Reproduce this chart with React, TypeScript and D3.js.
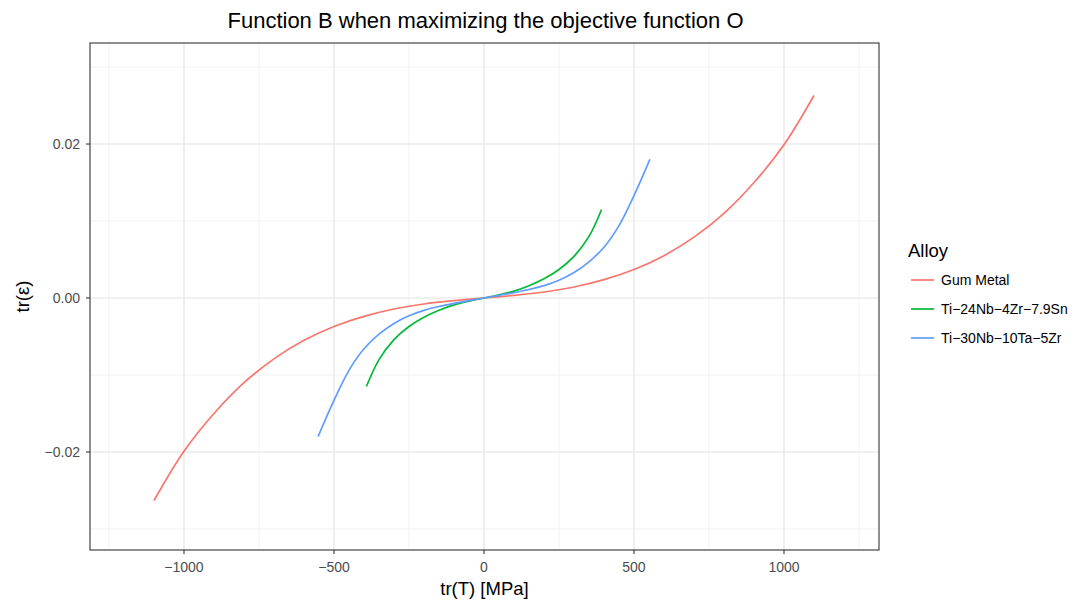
import React from "react";
import * as d3 from "d3";

// Trace of stress (MPa) against trace of strain for each alloy
const alloys = ["Gum Metal", "Ti−24Nb−4Zr−7.9Sn", "Ti−30Nb−10Ta−5Zr"];
const alloyColors = ["#F8766D", "#00BA38", "#619CFF"];

const gumStress = [-1100, -1000, -900, -800, -700, -600, -500, -400, -300, -200, -100, 0, 100, 200, 300, 400, 500, 600, 700, 800, 900, 1000, 1100];
const gumStrain = [-0.0263, -0.0199, -0.015, -0.011, -0.0079, -0.0055, -0.0037, -0.00238, -0.00143, -0.00078, -0.00034, 0, 0.00034, 0.00078, 0.00143, 0.00238, 0.0037, 0.0055, 0.0079, 0.011, 0.015, 0.0199, 0.0263];

const tnzsStress = [-392, -350, -300, -250, -200, -150, -100, -50, 0, 50, 100, 150, 200, 250, 300, 350, 392];
const tnzsStrain = [-0.0115, -0.008, -0.0054, -0.0037, -0.0025, -0.0016, -0.0009, -0.0004, 0, 0.0004, 0.0009, 0.0016, 0.0025, 0.0037, 0.0054, 0.008, 0.0115];

const tntzStress = [-553, -500, -450, -400, -350, -300, -250, -200, -150, -100, -50, 0, 50, 100, 150, 200, 250, 300, 350, 400, 450, 500, 553];
const tntzStrain = [-0.018, -0.0133, -0.0094, -0.0066, -0.0047, -0.0033, -0.0023, -0.0016, -0.0011, -0.0007, -0.00035, 0, 0.00035, 0.0007, 0.0011, 0.0016, 0.0023, 0.0033, 0.0047, 0.0066, 0.0094, 0.0133, 0.018];

const xMajor = [-1000, -500, 0, 500, 1000];
const xMinor = [-1250, -750, -250, 250, 750, 1250];
const yMajor = [-0.02, 0, 0.02];
const yMinor = [-0.03, -0.01, 0.01, 0.03];

const title = "Function B when maximizing the objective function O";
const xTitle = "tr(T) [MPa]";
const yTitle = "tr(ε)";
const legendTitle = "Alloy";

const W = 1082;
const H = 602;
const panel = { left: 90, right: 879, top: 43, bottom: 550 };
const font = "'Liberation Sans', Arial, Helvetica, sans-serif";

const fmtX = (v: number) => (v < 0 ? "−" + Math.abs(v) : String(v));
const fmtY = (v: number) => (v < 0 ? "−" + Math.abs(v).toFixed(2) : v.toFixed(2));

export default function App() {
  const x = d3.scaleLinear().domain([-1313.3, 1316.7]).range([panel.left, panel.right]);
  const y = d3.scaleLinear().domain([-0.03273, 0.03312]).range([panel.bottom, panel.top]);

  const series = [
    { name: alloys[0], color: alloyColors[0], xs: gumStress, ys: gumStrain },
    { name: alloys[1], color: alloyColors[1], xs: tnzsStress, ys: tnzsStrain },
    { name: alloys[2], color: alloyColors[2], xs: tntzStress, ys: tntzStrain },
  ];

  const line = d3
    .line<[number, number]>()
    .x((d) => x(d[0]))
    .y((d) => y(d[1]))
    .curve(d3.curveCatmullRom.alpha(0.5));

  const cx = (panel.left + panel.right) / 2;
  const cy = (panel.top + panel.bottom) / 2;

  return (
    <svg
      width={W}
      height={H}
      style={{ position: "absolute", left: 0, top: 0, display: "block", background: "#fff" }}
      fontFamily={font}
    >
      <rect x={0} y={0} width={W} height={H} fill="#fff" />
      {/* grid */}
      {xMinor.map((v) => (
        <line key={"xm" + v} x1={x(v)} x2={x(v)} y1={panel.top} y2={panel.bottom} stroke="#F2F2F2" strokeWidth={1} />
      ))}
      {yMinor.map((v) => (
        <line key={"ym" + v} x1={panel.left} x2={panel.right} y1={y(v)} y2={y(v)} stroke="#F2F2F2" strokeWidth={1} />
      ))}
      {xMajor.map((v) => (
        <line key={"xM" + v} x1={x(v)} x2={x(v)} y1={panel.top} y2={panel.bottom} stroke="#EBEBEB" strokeWidth={1.6} />
      ))}
      {yMajor.map((v) => (
        <line key={"yM" + v} x1={panel.left} x2={panel.right} y1={y(v)} y2={y(v)} stroke="#EBEBEB" strokeWidth={1.6} />
      ))}

      {/* curves */}
      {series.map((s) => (
        <path
          key={s.name}
          d={line(s.xs.map((v, i) => [v, s.ys[i]] as [number, number])) || ""}
          fill="none"
          stroke={s.color}
          strokeWidth={1.7}
        />
      ))}

      {/* panel border */}
      <rect
        x={panel.left}
        y={panel.top}
        width={panel.right - panel.left}
        height={panel.bottom - panel.top}
        fill="none"
        stroke="#333333"
        strokeWidth={1.1}
      />

      {/* x axis */}
      {xMajor.map((v) => (
        <g key={"xt" + v}>
          <line x1={x(v)} x2={x(v)} y1={panel.bottom} y2={panel.bottom + 4} stroke="#333333" strokeWidth={1.1} />
          <text x={x(v)} y={572} textAnchor="middle" fontSize={14} fill="#4D4D4D">
            {fmtX(v)}
          </text>
        </g>
      ))}
      {/* y axis */}
      {yMajor.map((v) => (
        <g key={"yt" + v}>
          <line x1={panel.left - 4} x2={panel.left} y1={y(v)} y2={y(v)} stroke="#333333" strokeWidth={1.1} />
          <text x={80} y={y(v) + 5} textAnchor="end" fontSize={14} fill="#4D4D4D">
            {fmtY(v)}
          </text>
        </g>
      ))}

      <text x={cx} y={594.5} textAnchor="middle" fontSize={18.5} fill="#000">
        {xTitle}
      </text>
      <text transform={`translate(29,${cy}) rotate(-90)`} textAnchor="middle" fontSize={18.5} fill="#000">
        {yTitle}
      </text>
      <text x={cx + 1} y={28} textAnchor="middle" fontSize={22} fill="#000">
        {title}
      </text>

      {/* legend */}
      <text x={908} y={257} fontSize={18.5} fill="#000">
        {legendTitle}
      </text>
      {series.map((s, i) => (
        <g key={"lg" + s.name}>
          <line x1={911} x2={934} y1={280 + i * 29} y2={280 + i * 29} stroke={s.color} strokeWidth={1.7} />
          <text x={941} y={285 + i * 29} fontSize={14} fill="#000">
            {s.name}
          </text>
        </g>
      ))}
    </svg>
  );
}
